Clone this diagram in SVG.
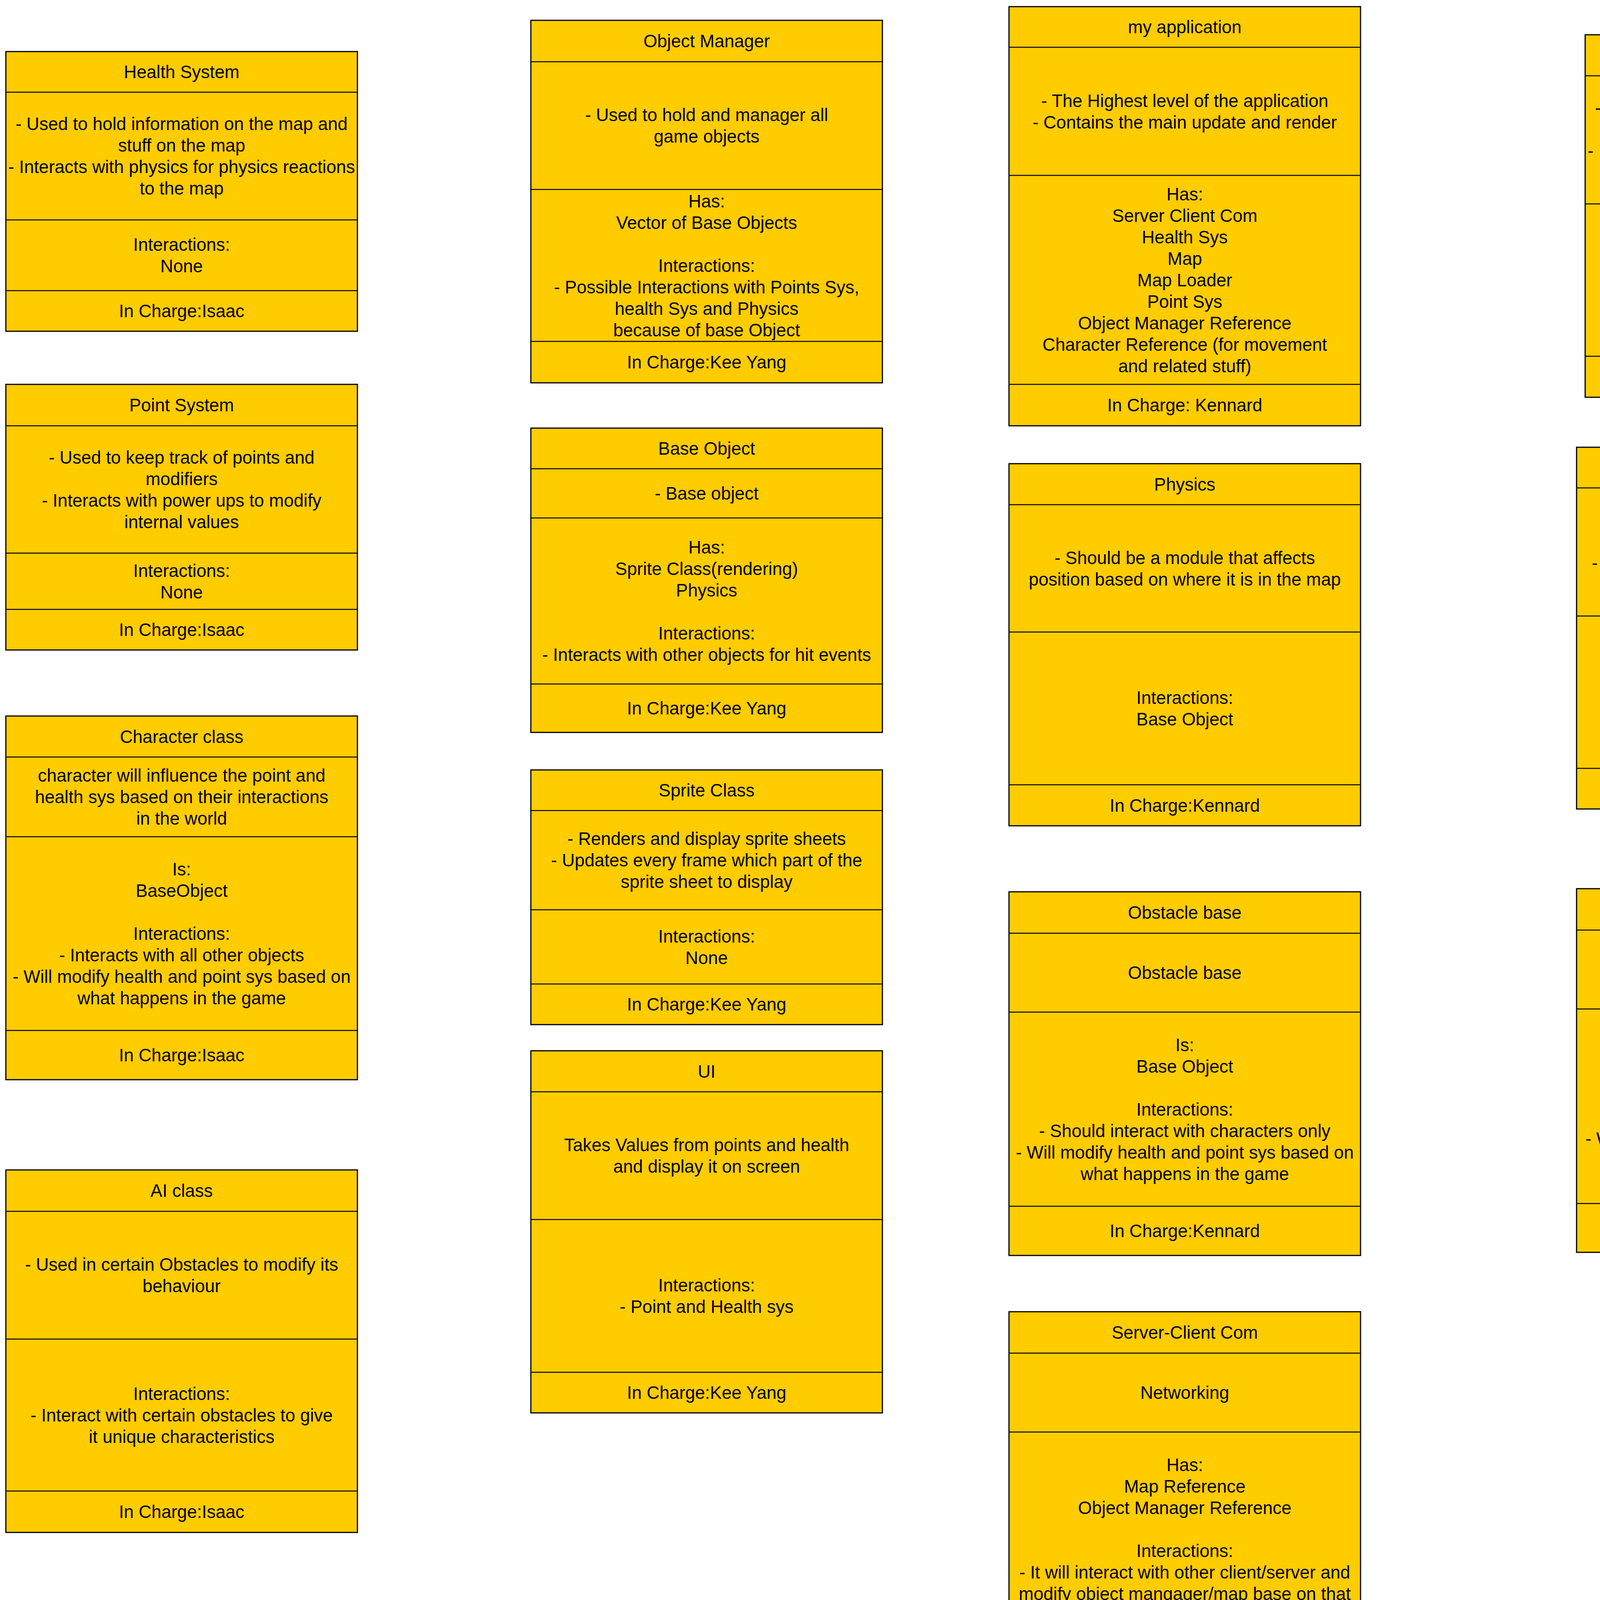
<svg xmlns="http://www.w3.org/2000/svg" width="4974" height="4305" viewBox="0 0 4974 4305">
<style>
.box rect{fill:#FFCC00;stroke:#000;stroke-width:3}
.box line{stroke:#000;stroke-width:2.5}
.box text{font-family:"Liberation Sans",Arial,Helvetica,sans-serif;font-size:45.5px;text-anchor:middle;fill:#000}
</style>
<rect width="4974" height="4305" fill="#fff"/>
<g id="connectors"/>

<g id="health-system" class="box">
<rect x="15" y="132" width="900" height="716"/>
<line x1="15" y1="236" x2="915" y2="236"/><line x1="15" y1="563" x2="915" y2="563"/><line x1="15" y1="744" x2="915" y2="744"/>
<text x="465" y="200">Health System</text>
<text y="333"><tspan x="465">- Used to hold information on the map and</tspan><tspan x="465" dy="55">stuff on the map</tspan><tspan x="465" dy="55">- Interacts with physics for physics reactions</tspan><tspan x="465" dy="55">to the map</tspan></text>
<text y="642"><tspan x="465">Interactions:</tspan><tspan x="465" dy="55">None</tspan></text>
<text x="465" y="812">In Charge:Isaac</text>
</g>

<g id="point-system" class="box">
<rect x="15" y="984" width="900" height="680"/>
<line x1="15" y1="1090" x2="915" y2="1090"/><line x1="15" y1="1416" x2="915" y2="1416"/><line x1="15" y1="1560" x2="915" y2="1560"/>
<text x="465" y="1053">Point System</text>
<text y="1186.5"><tspan x="465">- Used to keep track of points and</tspan><tspan x="465" dy="55">modifiers</tspan><tspan x="465" dy="55">- Interacts with power ups to modify</tspan><tspan x="465" dy="55">internal values</tspan></text>
<text y="1476.5"><tspan x="465">Interactions:</tspan><tspan x="465" dy="55">None</tspan></text>
<text x="465" y="1628">In Charge:Isaac</text>
</g>

<g id="character-class" class="box">
<rect x="15" y="1833" width="900" height="931"/>
<line x1="15" y1="1938" x2="915" y2="1938"/><line x1="15" y1="2142" x2="915" y2="2142"/><line x1="15" y1="2638" x2="915" y2="2638"/>
<text x="465" y="1901.5">Character class</text>
<text y="2001"><tspan x="465">character will influence the point and</tspan><tspan x="465" dy="55">health sys based on their interactions</tspan><tspan x="465" dy="55">in the world</tspan></text>
<text y="2241"><tspan x="465">Is:</tspan><tspan x="465" dy="55">BaseObject</tspan><tspan x="465" dy="110">Interactions:</tspan><tspan x="465" dy="55">- Interacts with all other objects</tspan><tspan x="465" dy="55">- Will modify health and point sys based on</tspan><tspan x="465" dy="55">what happens in the game</tspan></text>
<text x="465" y="2717">In Charge:Isaac</text>
</g>

<g id="ai-class" class="box">
<rect x="15" y="2995" width="900" height="928"/>
<line x1="15" y1="3101" x2="915" y2="3101"/><line x1="15" y1="3428" x2="915" y2="3428"/><line x1="15" y1="3817" x2="915" y2="3817"/>
<text x="465" y="3064">AI class</text>
<text y="3253"><tspan x="465">- Used in certain Obstacles to modify its</tspan><tspan x="465" dy="55">behaviour</tspan></text>
<text y="3583.5"><tspan x="465">Interactions:</tspan><tspan x="465" dy="55">- Interact with certain obstacles to give</tspan><tspan x="465" dy="55">it unique characteristics</tspan></text>
<text x="465" y="3886">In Charge:Isaac</text>
</g>

<g id="object-manager" class="box">
<rect x="1359" y="52" width="900" height="928"/>
<line x1="1359" y1="158" x2="2259" y2="158"/><line x1="1359" y1="485" x2="2259" y2="485"/><line x1="1359" y1="874" x2="2259" y2="874"/>
<text x="1809" y="121">Object Manager</text>
<text y="310"><tspan x="1809">- Used to hold and manager all</tspan><tspan x="1809" dy="55">game objects</tspan></text>
<text y="530.5"><tspan x="1809">Has:</tspan><tspan x="1809" dy="55">Vector of Base Objects</tspan><tspan x="1809" dy="110">Interactions:</tspan><tspan x="1809" dy="55">- Possible Interactions with Points Sys,</tspan><tspan x="1809" dy="55">health Sys and Physics</tspan><tspan x="1809" dy="55">because of base Object</tspan></text>
<text x="1809" y="943">In Charge:Kee Yang</text>
</g>

<g id="base-object" class="box">
<rect x="1359" y="1096" width="900" height="779"/>
<line x1="1359" y1="1200" x2="2259" y2="1200"/><line x1="1359" y1="1326" x2="2259" y2="1326"/><line x1="1359" y1="1751" x2="2259" y2="1751"/>
<text x="1809" y="1164">Base Object</text>
<text x="1809" y="1279">- Base object</text>
<text y="1417"><tspan x="1809">Has:</tspan><tspan x="1809" dy="55">Sprite Class(rendering)</tspan><tspan x="1809" dy="55">Physics</tspan><tspan x="1809" dy="110">Interactions:</tspan><tspan x="1809" dy="55">- Interacts with other objects for hit events</tspan></text>
<text x="1809" y="1829">In Charge:Kee Yang</text>
</g>

<g id="sprite-class" class="box">
<rect x="1359" y="1971" width="900" height="652"/>
<line x1="1359" y1="2075" x2="2259" y2="2075"/><line x1="1359" y1="2329" x2="2259" y2="2329"/><line x1="1359" y1="2519" x2="2259" y2="2519"/>
<text x="1809" y="2039">Sprite Class</text>
<text y="2163"><tspan x="1809">- Renders and display sprite sheets</tspan><tspan x="1809" dy="55">- Updates every frame which part of the</tspan><tspan x="1809" dy="55">sprite sheet to display</tspan></text>
<text y="2412.5"><tspan x="1809">Interactions:</tspan><tspan x="1809" dy="55">None</tspan></text>
<text x="1809" y="2587">In Charge:Kee Yang</text>
</g>

<g id="ui" class="box">
<rect x="1359" y="2690" width="900" height="927"/>
<line x1="1359" y1="2795" x2="2259" y2="2795"/><line x1="1359" y1="3122" x2="2259" y2="3122"/><line x1="1359" y1="3513" x2="2259" y2="3513"/>
<text x="1809" y="2758.5">UI</text>
<text y="2947"><tspan x="1809">Takes Values from points and health</tspan><tspan x="1809" dy="55">and display it on screen</tspan></text>
<text y="3306"><tspan x="1809">Interactions:</tspan><tspan x="1809" dy="55">- Point and Health sys</tspan></text>
<text x="1809" y="3581">In Charge:Kee Yang</text>
</g>

<g id="my-application" class="box">
<rect x="2583" y="17" width="900" height="1073"/>
<line x1="2583" y1="121" x2="3483" y2="121"/><line x1="2583" y1="449" x2="3483" y2="449"/><line x1="2583" y1="984" x2="3483" y2="984"/>
<text x="3033" y="85">my application</text>
<text y="273.5"><tspan x="3033">- The Highest level of the application</tspan><tspan x="3033" dy="55">- Contains the main update and render</tspan></text>
<text y="512.5"><tspan x="3033">Has:</tspan><tspan x="3033" dy="55">Server Client Com</tspan><tspan x="3033" dy="55">Health Sys</tspan><tspan x="3033" dy="55">Map</tspan><tspan x="3033" dy="55">Map Loader</tspan><tspan x="3033" dy="55">Point Sys</tspan><tspan x="3033" dy="55">Object Manager Reference</tspan><tspan x="3033" dy="55">Character Reference (for movement</tspan><tspan x="3033" dy="55">and related stuff)</tspan></text>
<text x="3033" y="1053">In Charge: Kennard</text>
</g>

<g id="physics" class="box">
<rect x="2583" y="1187" width="900" height="927"/>
<line x1="2583" y1="1292" x2="3483" y2="1292"/><line x1="2583" y1="1618" x2="3483" y2="1618"/><line x1="2583" y1="2009" x2="3483" y2="2009"/>
<text x="3033" y="1255.5">Physics</text>
<text y="1443.5"><tspan x="3033">- Should be a module that affects</tspan><tspan x="3033" dy="55">position based on where it is in the map</tspan></text>
<text y="1802"><tspan x="3033">Interactions:</tspan><tspan x="3033" dy="55">Base Object</tspan></text>
<text x="3033" y="2077.5">In Charge:Kennard</text>
</g>

<g id="obstacle-base" class="box">
<rect x="2583" y="2283" width="900" height="931"/>
<line x1="2583" y1="2389" x2="3483" y2="2389"/><line x1="2583" y1="2591" x2="3483" y2="2591"/><line x1="2583" y1="3088" x2="3483" y2="3088"/>
<text x="3033" y="2352">Obstacle base</text>
<text x="3033" y="2506">Obstacle base</text>
<text y="2690.5"><tspan x="3033">Is:</tspan><tspan x="3033" dy="55">Base Object</tspan><tspan x="3033" dy="110">Interactions:</tspan><tspan x="3033" dy="55">- Should interact with characters only</tspan><tspan x="3033" dy="55">- Will modify health and point sys based on</tspan><tspan x="3033" dy="55">what happens in the game</tspan></text>
<text x="3033" y="3167">In Charge:Kennard</text>
</g>

<g id="server-client-com" class="box">
<rect x="2583" y="3358" width="900" height="931"/>
<line x1="2583" y1="3464" x2="3483" y2="3464"/><line x1="2583" y1="3666" x2="3483" y2="3666"/><line x1="2583" y1="4163" x2="3483" y2="4163"/>
<text x="3033" y="3427">Server-Client Com</text>
<text x="3033" y="3581">Networking</text>
<text y="3765.5"><tspan x="3033">Has:</tspan><tspan x="3033" dy="55">Map Reference</tspan><tspan x="3033" dy="55">Object Manager Reference</tspan><tspan x="3033" dy="110">Interactions:</tspan><tspan x="3033" dy="55">- It will interact with other client/server and</tspan><tspan x="3033" dy="55">modify object mangager/map base on that</tspan></text>
<text x="3033" y="4242">In Charge:Kennard</text>
</g>

<g id="map" class="box">
<rect x="4058" y="89" width="900" height="928"/>
<line x1="4058" y1="194" x2="4958" y2="194"/><line x1="4058" y1="522" x2="4958" y2="522"/><line x1="4058" y1="912" x2="4958" y2="912"/>
<text x="4508" y="157.5">Map</text>
<text y="291.5"><tspan x="4508">- Used to hold information on the map and</tspan><tspan x="4508" dy="55">stuff on the map</tspan><tspan x="4508" dy="55">- Interacts with physics for physics reactions</tspan><tspan x="4508" dy="55">to the map</tspan></text>
<text y="623"><tspan x="4508">Has:</tspan><tspan x="4508" dy="55">Object Manager Reference</tspan><tspan x="4508" dy="110">Interactions:</tspan><tspan x="4508" dy="55">Physics(physics reactions)</tspan></text>
<text x="4508" y="980.5">In Charge:Sherwyn</text>
</g>

<g id="map-loader" class="box">
<rect x="4036" y="1145" width="900" height="926"/>
<line x1="4036" y1="1249" x2="4936" y2="1249"/><line x1="4036" y1="1577" x2="4936" y2="1577"/><line x1="4036" y1="1967" x2="4936" y2="1967"/>
<text x="4486" y="1213">Map Loader</text>
<text y="1346.5"><tspan x="4486">- Used to load map layouts and entity</tspan><tspan x="4486" dy="55">positions on the map</tspan><tspan x="4486" dy="55">- Interacts with the object manager in the</tspan><tspan x="4486" dy="55">map to</tspan></text>
<text y="1733"><tspan x="4486">Interactions:</tspan><tspan x="4486" dy="55">Map(Load into map)</tspan><tspan x="4486" dy="55">Object Manager(To place entities)</tspan></text>
<text x="4486" y="2035">In Charge:Sherwyn</text>
</g>

<g id="powerup-base" class="box">
<rect x="4036" y="2275" width="900" height="931"/>
<line x1="4036" y1="2381" x2="4936" y2="2381"/><line x1="4036" y1="2583" x2="4936" y2="2583"/><line x1="4036" y1="3081" x2="4936" y2="3081"/>
<text x="4486" y="2344">PowerUp Base</text>
<text x="4486" y="2498">powerUp base</text>
<text y="2655.5"><tspan x="4486">Is:</tspan><tspan x="4486" dy="55">Base Object</tspan><tspan x="4486" dy="110">Interactions:</tspan><tspan x="4486" dy="55">- Should interact with characters only</tspan><tspan x="4486" dy="55">- Will modify health, point sys and possibly</tspan><tspan x="4486" dy="55">character physics based on what</tspan><tspan x="4486" dy="55">happens in the game</tspan></text>
<text x="4486" y="3159.5">In Charge:Sherwyn</text>
</g>
</svg>
